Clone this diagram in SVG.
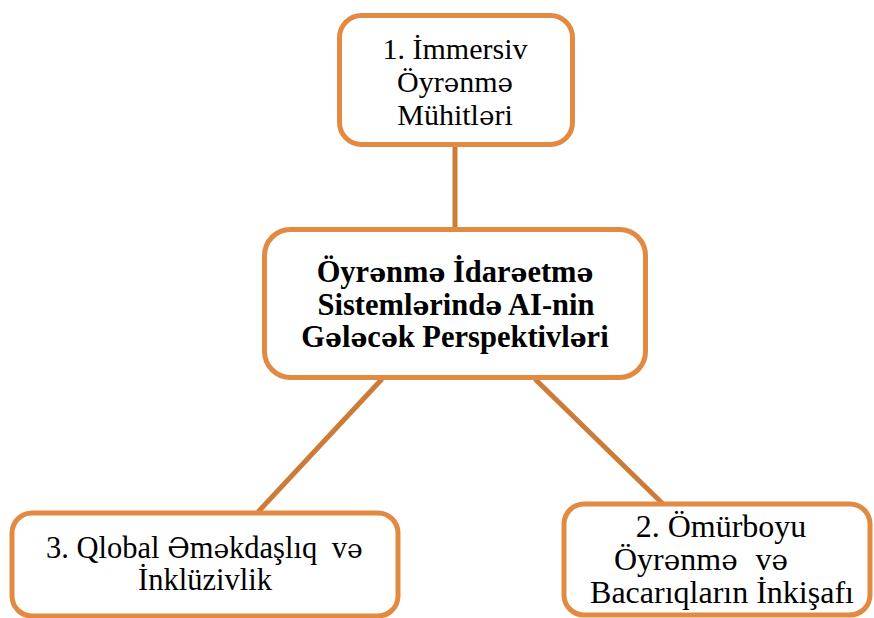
<svg xmlns="http://www.w3.org/2000/svg" width="874" height="618" viewBox="0 0 874 618">
  <style>
    .box { fill: #ffffff; stroke: #E28A41; stroke-width: 5; }
    .link { stroke: #CD7C38; stroke-width: 5; fill: none; }
    .t { font-family: "Liberation Serif", "Times New Roman", "DejaVu Serif", serif; font-size: 30px; fill: #000000; text-anchor: middle; }
    .b { font-weight: bold; font-size: 30.5px; }
    .mid { font-size: 30.5px; }
    .big { font-size: 32px; }
    .l { text-anchor: start; }
    /* schwa glyphs come from DejaVu Serif, scaled to the Times x-height */
    .s { font-family: "DejaVu Serif", serif; font-size: 0.87em; }
    .S { font-family: "DejaVu Serif", serif; font-size: 0.9em; }
  </style>
  <rect width="874" height="618" fill="#ffffff"/>
  <g id="connectors">
    <line class="link" x1="455" y1="146" x2="455" y2="229"/>
    <line class="link" x1="382" y1="379" x2="258" y2="512"/>
    <line class="link" x1="535" y1="379" x2="663" y2="504"/>
  </g>
  <g id="node-immersive">
    <rect class="box" x="339.5" y="15.5" width="233" height="129" rx="22"/>
    <text class="t" x="455" y="59">1. İmmersiv</text>
    <text class="t" x="455" y="92">Öyr<tspan class="s">ə</tspan>nm<tspan class="s">ə</tspan></text>
    <text class="t" x="455" y="125">Mühitl<tspan class="s">ə</tspan>ri</text>
  </g>
  <g id="node-center">
    <rect class="box" x="264.5" y="229.5" width="381" height="148" rx="26"/>
    <text class="t b" x="455" y="282">Öyr<tspan class="s">ə</tspan>nm<tspan class="s">ə</tspan> İdar<tspan class="s">ə</tspan>etm<tspan class="s">ə</tspan></text>
    <text class="t b" x="456" y="315">Sisteml<tspan class="s">ə</tspan>rind<tspan class="s">ə</tspan> AI-nin</text>
    <text class="t b" x="455" y="347">G<tspan class="s">ə</tspan>l<tspan class="s">ə</tspan>c<tspan class="s">ə</tspan>k Perspektivl<tspan class="s">ə</tspan>ri</text>
  </g>
  <g id="node-global">
    <rect class="box" x="12" y="513" width="386" height="103" rx="20"/>
    <text class="t mid l" x="46" y="558">3. Qlobal <tspan class="S">Ə</tspan>m<tspan class="s">ə</tspan>kdaşlıq <tspan dx="7">v</tspan><tspan class="s">ə</tspan></text>
    <text class="t mid" x="205" y="590">İnklüzivlik</text>
  </g>
  <g id="node-lifelong">
    <rect class="box" x="564" y="504" width="306" height="111" rx="20"/>
    <text class="t big" x="721" y="537">2. Ömürboyu</text>
    <text class="t big l" x="614" y="570">Öyr<tspan class="s">ə</tspan>nm<tspan class="s">ə</tspan> <tspan dx="10">v</tspan><tspan class="s">ə</tspan></text>
    <text class="t big" x="722" y="603">Bacarıqların İnkişafı</text>
  </g>
</svg>
